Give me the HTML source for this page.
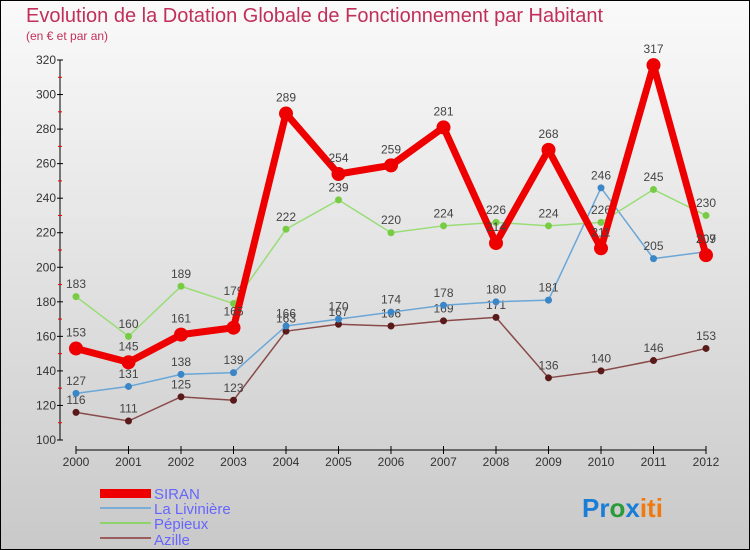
<!DOCTYPE html>
<html><head><meta charset="utf-8"><style>
body{margin:0}
svg{display:block;font-family:"Liberation Sans",sans-serif}
</style></head><body>
<svg width="750" height="550">
<defs><linearGradient id="bg" x1="0" y1="0" x2="0" y2="1"><stop offset="0" stop-color="#fafafa"/><stop offset="1" stop-color="#c9c9c9"/></linearGradient></defs>
<rect x="0.5" y="0.5" width="749" height="549" fill="url(#bg)" stroke="#000"/>
<text x="26" y="22" font-size="20" fill="#c0305a">Evolution de la Dotation Globale de Fonctionnement par Habitant</text>
<text x="26" y="40" font-size="12" fill="#c0305a">(en € et par an)</text>
<g id="axes"></g><g id="series"></g>
<g>
<rect x="100" y="489" width="51" height="9" fill="#e00"/>
<text x="154" y="499" font-size="15" fill="#66f">SIRAN</text>
<line x1="100" y1="508" x2="151" y2="508" stroke="#7aaed6" stroke-width="2"/>
<text x="154" y="514" font-size="15" fill="#66f">La Livinière</text>
<line x1="100" y1="523" x2="151" y2="523" stroke="#8fd46a" stroke-width="2"/>
<text x="154" y="529" font-size="15" fill="#66f">Pépieux</text>
<line x1="100" y1="538" x2="151" y2="538" stroke="#9a5c5c" stroke-width="2"/>
<text x="154" y="545" font-size="15" fill="#66f">Azille</text>
</g>
<text x="582" y="517" font-size="26" font-weight="bold"><tspan fill="#1a7ed6">Pr</tspan><tspan fill="#2a9a3a">o</tspan><tspan fill="#1a7ed6">x</tspan><tspan fill="#f07a10">iti</tspan></text>
</svg>
<script>
const years=["2000","2001","2002","2003","2004","2005","2006","2007","2008","2009","2010","2011","2012"];
const yTicks=[100,120,140,160,180,200,220,240,260,280,300,320];
const siran=[153,145,161,165,289,254,259,281,214,268,211,317,207];
const liviniere=[127,131,138,139,166,170,174,178,180,181,246,205,209];
const pepieux=[183,160,189,179,222,239,220,224,226,224,226,245,230];
const azille=[116,111,125,123,163,167,166,169,171,136,140,146,153];
const NS="http://www.w3.org/2000/svg";
const X=i=>76+i*52.5, Y=v=>440-(v-100)*380/220;
function mk(t,a,p){const e=document.createElementNS(NS,t);for(const k in a)e.setAttribute(k,a[k]);p.appendChild(e);return e;}
const ax=document.getElementById('axes');
let e=mk('line',{x1:60,y1:60,x2:60,y2:440,stroke:'#000'},ax);


e=mk('line',{x1:76,y1:450,x2:706,y2:450,stroke:'#000'},ax);


yTicks.forEach((v,i)=>{mk('line',{x1:57,x2:63,y1:Y(v),y2:Y(v),stroke:'#000'},ax);
if(i<yTicks.length-1)mk('line',{x1:58,x2:62,y1:Y(v+10),y2:Y(v+10),stroke:'#e00'},ax);
const t=mk('text',{x:56,y:Y(v)+4,'text-anchor':'end','font-size':12,fill:'#333'},ax);t.textContent=v;

});
years.forEach((y,i)=>{mk('line',{x1:X(i),x2:X(i),y1:446,y2:454,stroke:'#000'},ax);
const t=mk('text',{x:X(i),y:466,'text-anchor':'middle','font-size':12,fill:'#333'},ax);t.textContent=y;

});
const sg=document.getElementById('series');
function draw(data,color,w,r,fill,name){const g=mk('g',{},sg);


mk('polyline',{points:data.map((v,i)=>X(i)+','+Y(v)).join(' '),fill:'none',stroke:color,'stroke-width':w,'stroke-linejoin':'round'},g);
data.forEach((v,i)=>{const c=mk('circle',{cx:X(i),cy:Y(v),r:r,fill:fill},g);


const t=mk('text',{x:X(i),y:Y(v)-r-5,'text-anchor':'middle','font-size':12,fill:'#444'},g);t.textContent=v;});}
draw(azille,'#8a4a4a',1.5,3.5,'#5a1a1a','azille');
draw(liviniere,'#6aa6d6',1.5,3.5,'#3a86c6','la-liviniere');
draw(pepieux,'#99dd77',1.5,3.5,'#77cc44','pepieux');
draw(siran,'#ee0000',7,7,'#ee0000','siran');
</script>
</body></html>
